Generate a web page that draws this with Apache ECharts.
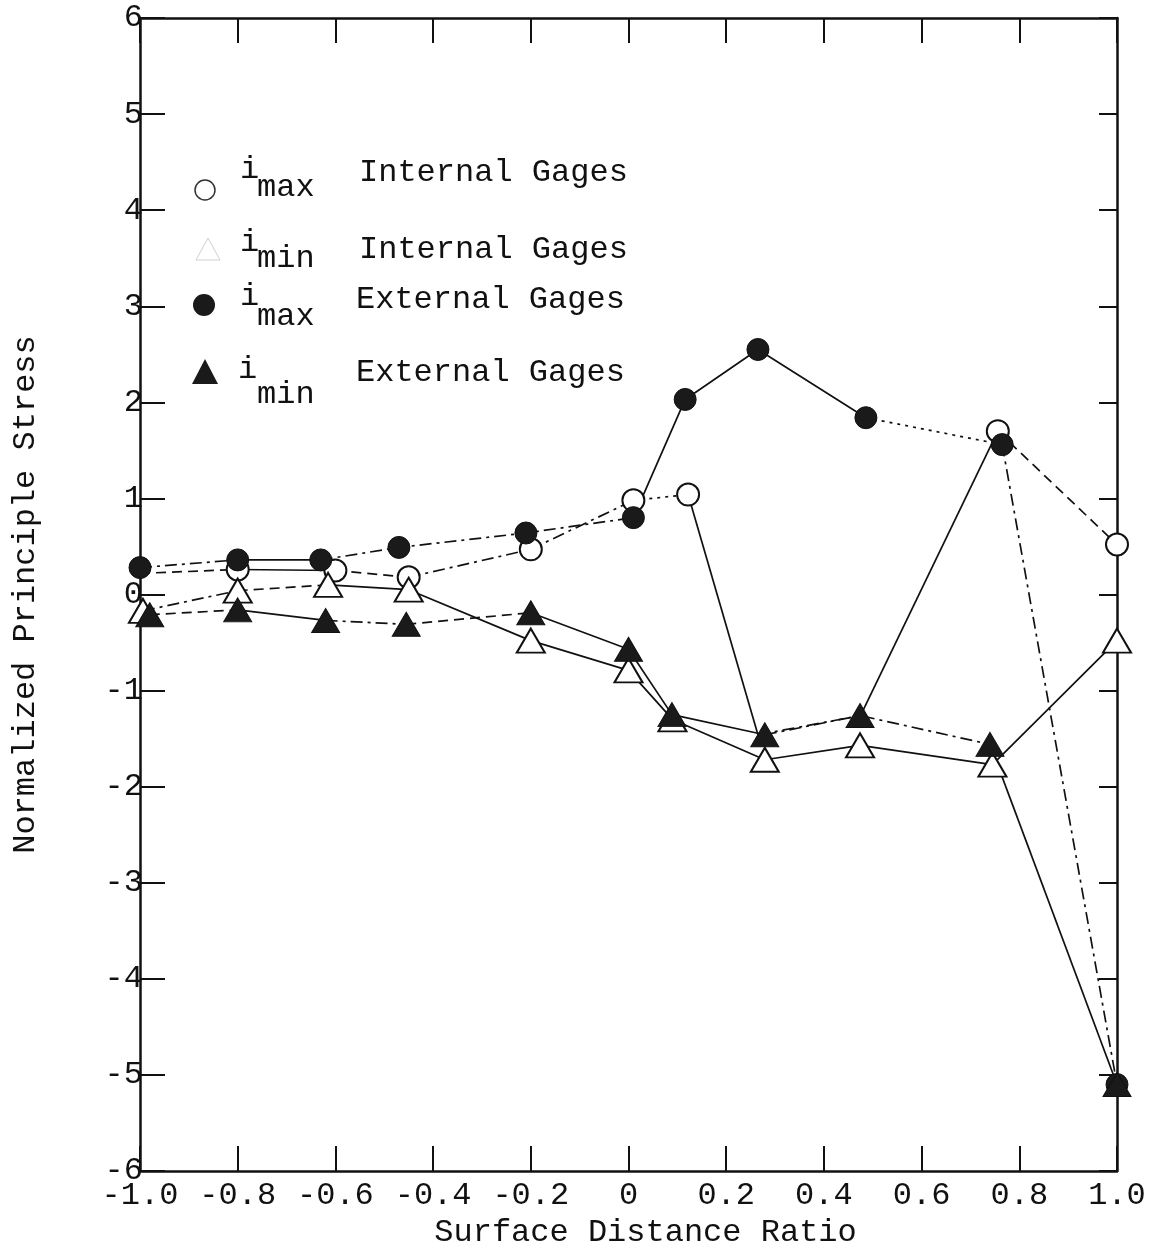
<!DOCTYPE html>
<html>
<head>
<meta charset="utf-8">
<script src="https://cdn.jsdelivr.net/npm/echarts@6/dist/echarts.min.js"></script>
<style>
html,body{margin:0;padding:0;background:#fff;}
#chart{width:1168px;height:1254px;}
</style>
</head>
<body>
<div id="chart"></div>
<script>
// ---- data ----
const xTickLabels = ['-1.0','-0.8','-0.6','-0.4','-0.2','0','0.2','0.4','0.6','0.8','1.0'];
const yTickLabels = ['-6','-5','-4','-3','-2','-1','0','1','2','3','4','5','6'];

// i_max, internal gages (open circles)
const intMaxX = [-1.0, -0.80, -0.60, -0.45, -0.20, 0.01, 0.122, 0.265, 0.475, 0.756, 1.0];
const intMaxY = [0.22, 0.26, 0.25, 0.18, 0.47, 0.98, 1.04, -1.46, -1.26, 1.70, 0.52];
const intMaxShown = [0, 1, 1, 1, 1, 1, 1, 0, 0, 1, 1];

// i_min, internal gages (open triangles)
const intMinX = [-0.994, -0.80, -0.615, -0.45, -0.20, 0.0, 0.09, 0.279, 0.474, 0.745, 1.0];
const intMinY = [-0.17, 0.04, 0.10, 0.05, -0.48, -0.79, -1.30, -1.72, -1.57, -1.77, -0.48];

// i_max, external gages (filled circles)
const extMaxX = [-1.0, -0.80, -0.63, -0.47, -0.21, 0.01, 0.116, 0.265, 0.486, 0.765, 1.0];
const extMaxY = [0.28, 0.36, 0.36, 0.49, 0.64, 0.80, 2.03, 2.55, 1.84, 1.56, -5.1];

// i_min, external gages (filled triangles)
const extMinX = [-0.98, -0.80, -0.62, -0.455, -0.20, 0.0, 0.089, 0.279, 0.474, 0.74, 1.0];
const extMinY = [-0.21, -0.16, -0.27, -0.31, -0.19, -0.57, -1.25, -1.46, -1.26, -1.56, -5.1];

// ---- line style of each segment (as seen in the scan) ----
const intMaxSeg = ['dashed','solid','dashed','dashdot','dashdot','dot','solid','dashdot','solid','dashed'];
const intMinSeg = ['dashdot','dashed','solid','solid','solid','solid','solid','solid','solid','solid'];
const extMaxSeg = ['dashdot','solid','dashdot','dashdot','dashdot','solid','solid','solid','dot','dashdot'];
const extMinSeg = ['dashed','solid','dashdot','dashed','solid','solid','solid','dashdot','dashdot','solid'];

const FONT = '"Liberation Mono", "DejaVu Sans Mono", monospace';
const FS = 32;
const INK = '#111';
const DASH = { solid: 'solid', dashed: [10, 6], dashdot: [12, 5, 3, 5], dot: [3, 5] };

function lineRuns(xs, ys, segs) {
  const out = [];
  let i = 0;
  while (i < segs.length) {
    let j = i;
    while (j + 1 < segs.length && segs[j + 1] === segs[i]) j++;
    const pts = [];
    for (let k = i; k <= j + 1; k++) pts.push([xs[k], ys[k]]);
    out.push({
      type: 'line', data: pts, symbol: 'none', silent: true, z: 2,
      lineStyle: { color: INK, width: 1.7, type: DASH[segs[i]], opacity: 1 }
    });
    i = j + 1;
  }
  return out;
}

function markers(xs, ys, mask, symbol, size, filled, z) {
  const pts = [];
  for (let k = 0; k < xs.length; k++) if (!mask || mask[k]) pts.push([xs[k], ys[k]]);
  return {
    type: 'scatter', data: pts, symbol: symbol, symbolSize: size, silent: true, z: z,
    itemStyle: filled ? { color: '#1a1a1a', borderColor: '#111', borderWidth: 1, opacity: 1 }
                      : { color: '#fff', borderColor: INK, borderWidth: 2, opacity: 1 }
  };
}

const series = [].concat(
  lineRuns(intMaxX, intMaxY, intMaxSeg),
  lineRuns(intMinX, intMinY, intMinSeg),
  lineRuns(extMaxX, extMaxY, extMaxSeg),
  lineRuns(extMinX, extMinY, extMinSeg),
  [
    markers(intMaxX, intMaxY, intMaxShown, 'circle', 22, false, 3),
    markers(intMinX, intMinY, null, 'triangle', [28, 24], false, 3),
    markers(extMaxX, extMaxY, null, 'circle', 22, true, 4),
    markers(extMinX, extMinY, null, 'triangle', [28, 24], true, 4)
  ]
);

function txt(t, x, y) {
  return { type: 'text', silent: true, z: 10,
    style: { text: t, x: x, y: y, font: FS + 'px ' + FONT, fill: INK, align: 'left', verticalAlign: 'middle' } };
}

const legendGraphics = [
  { type: 'circle', silent: true, z: 10, shape: { cx: 205, cy: 190, r: 10 }, style: { fill: 'none', stroke: '#333', lineWidth: 1.5 } },
  { type: 'polygon', silent: true, z: 10, shape: { points: [[208, 238], [196, 260], [220, 260]] }, style: { fill: 'none', stroke: '#cfcfcf', lineWidth: 1 } },
  { type: 'circle', silent: true, z: 10, shape: { cx: 204, cy: 305, r: 11 }, style: { fill: '#1a1a1a' } },
  { type: 'polygon', silent: true, z: 10, shape: { points: [[205, 359], [192, 384], [218, 384]] }, style: { fill: '#1a1a1a' } },
  txt('i', 240, 170), txt('max', 257, 188), txt('Internal Gages', 359, 173),
  txt('i', 240, 243), txt('min', 257, 259), txt('Internal Gages', 359, 250),
  txt('i', 240, 297), txt('max', 257, 317), txt('External Gages', 356, 300),
  txt('i', 238, 370), txt('min', 257, 395), txt('External Gages', 356, 373)
];

const axisLineStyle = { color: INK, width: 2.5 };

const option = {
  backgroundColor: '#fff',
  animation: false,
  grid: { left: 140, right: 51, top: 18, bottom: 81, containLabel: false },
  xAxis: [
    {
      type: 'value', position: 'bottom', min: -1, max: 1, interval: 0.2,
      name: 'Surface Distance Ratio', nameLocation: 'middle', nameGap: 46,
      nameTextStyle: { fontFamily: FONT, fontSize: FS, color: INK, padding: [0, 0, 0, 34] },
      axisLine: { show: true, onZero: false, lineStyle: axisLineStyle },
      axisTick: { show: true, inside: true, length: 25, lineStyle: { color: INK, width: 2 } },
      axisLabel: {
        show: true, margin: 9, fontFamily: FONT, fontSize: FS, color: INK,
        formatter: function (v) { return xTickLabels[Math.round((v + 1) / 0.2)]; }
      },
      splitLine: { show: false }
    },
    {
      type: 'value', position: 'top', min: -1, max: 1, interval: 0.2,
      axisLine: { show: true, onZero: false, lineStyle: axisLineStyle },
      axisTick: { show: true, inside: true, length: 25, lineStyle: { color: INK, width: 2 } },
      axisLabel: { show: false },
      splitLine: { show: false }
    }
  ],
  yAxis: [
    {
      type: 'value', position: 'left', min: -6, max: 6, interval: 1,
      name: 'Normalized Principle Stress', nameLocation: 'middle', nameGap: 86, nameRotate: 90,
      nameTextStyle: { fontFamily: FONT, fontSize: FS, color: INK, padding: [0, 0, 12, 0] },
      axisLine: { show: true, onZero: false, lineStyle: axisLineStyle },
      axisTick: { show: true, inside: true, length: 25, lineStyle: { color: INK, width: 2 } },
      axisLabel: {
        show: true, margin: -3, fontFamily: FONT, fontSize: FS, color: INK, padding: [0, 0, 8, 0],
        formatter: function (v) { return yTickLabels[Math.round(v + 6)]; }
      },
      splitLine: { show: false }
    },
    {
      type: 'value', position: 'right', min: -6, max: 6, interval: 1,
      axisLine: { show: true, onZero: false, lineStyle: axisLineStyle },
      axisTick: { show: true, inside: true, length: 18, lineStyle: { color: INK, width: 2 } },
      axisLabel: { show: false },
      splitLine: { show: false }
    }
  ],
  graphic: legendGraphics,
  series: series
};

const chart = echarts.init(document.getElementById('chart'), null, { renderer: 'canvas' });
chart.setOption(option);
</script>
</body>
</html>
